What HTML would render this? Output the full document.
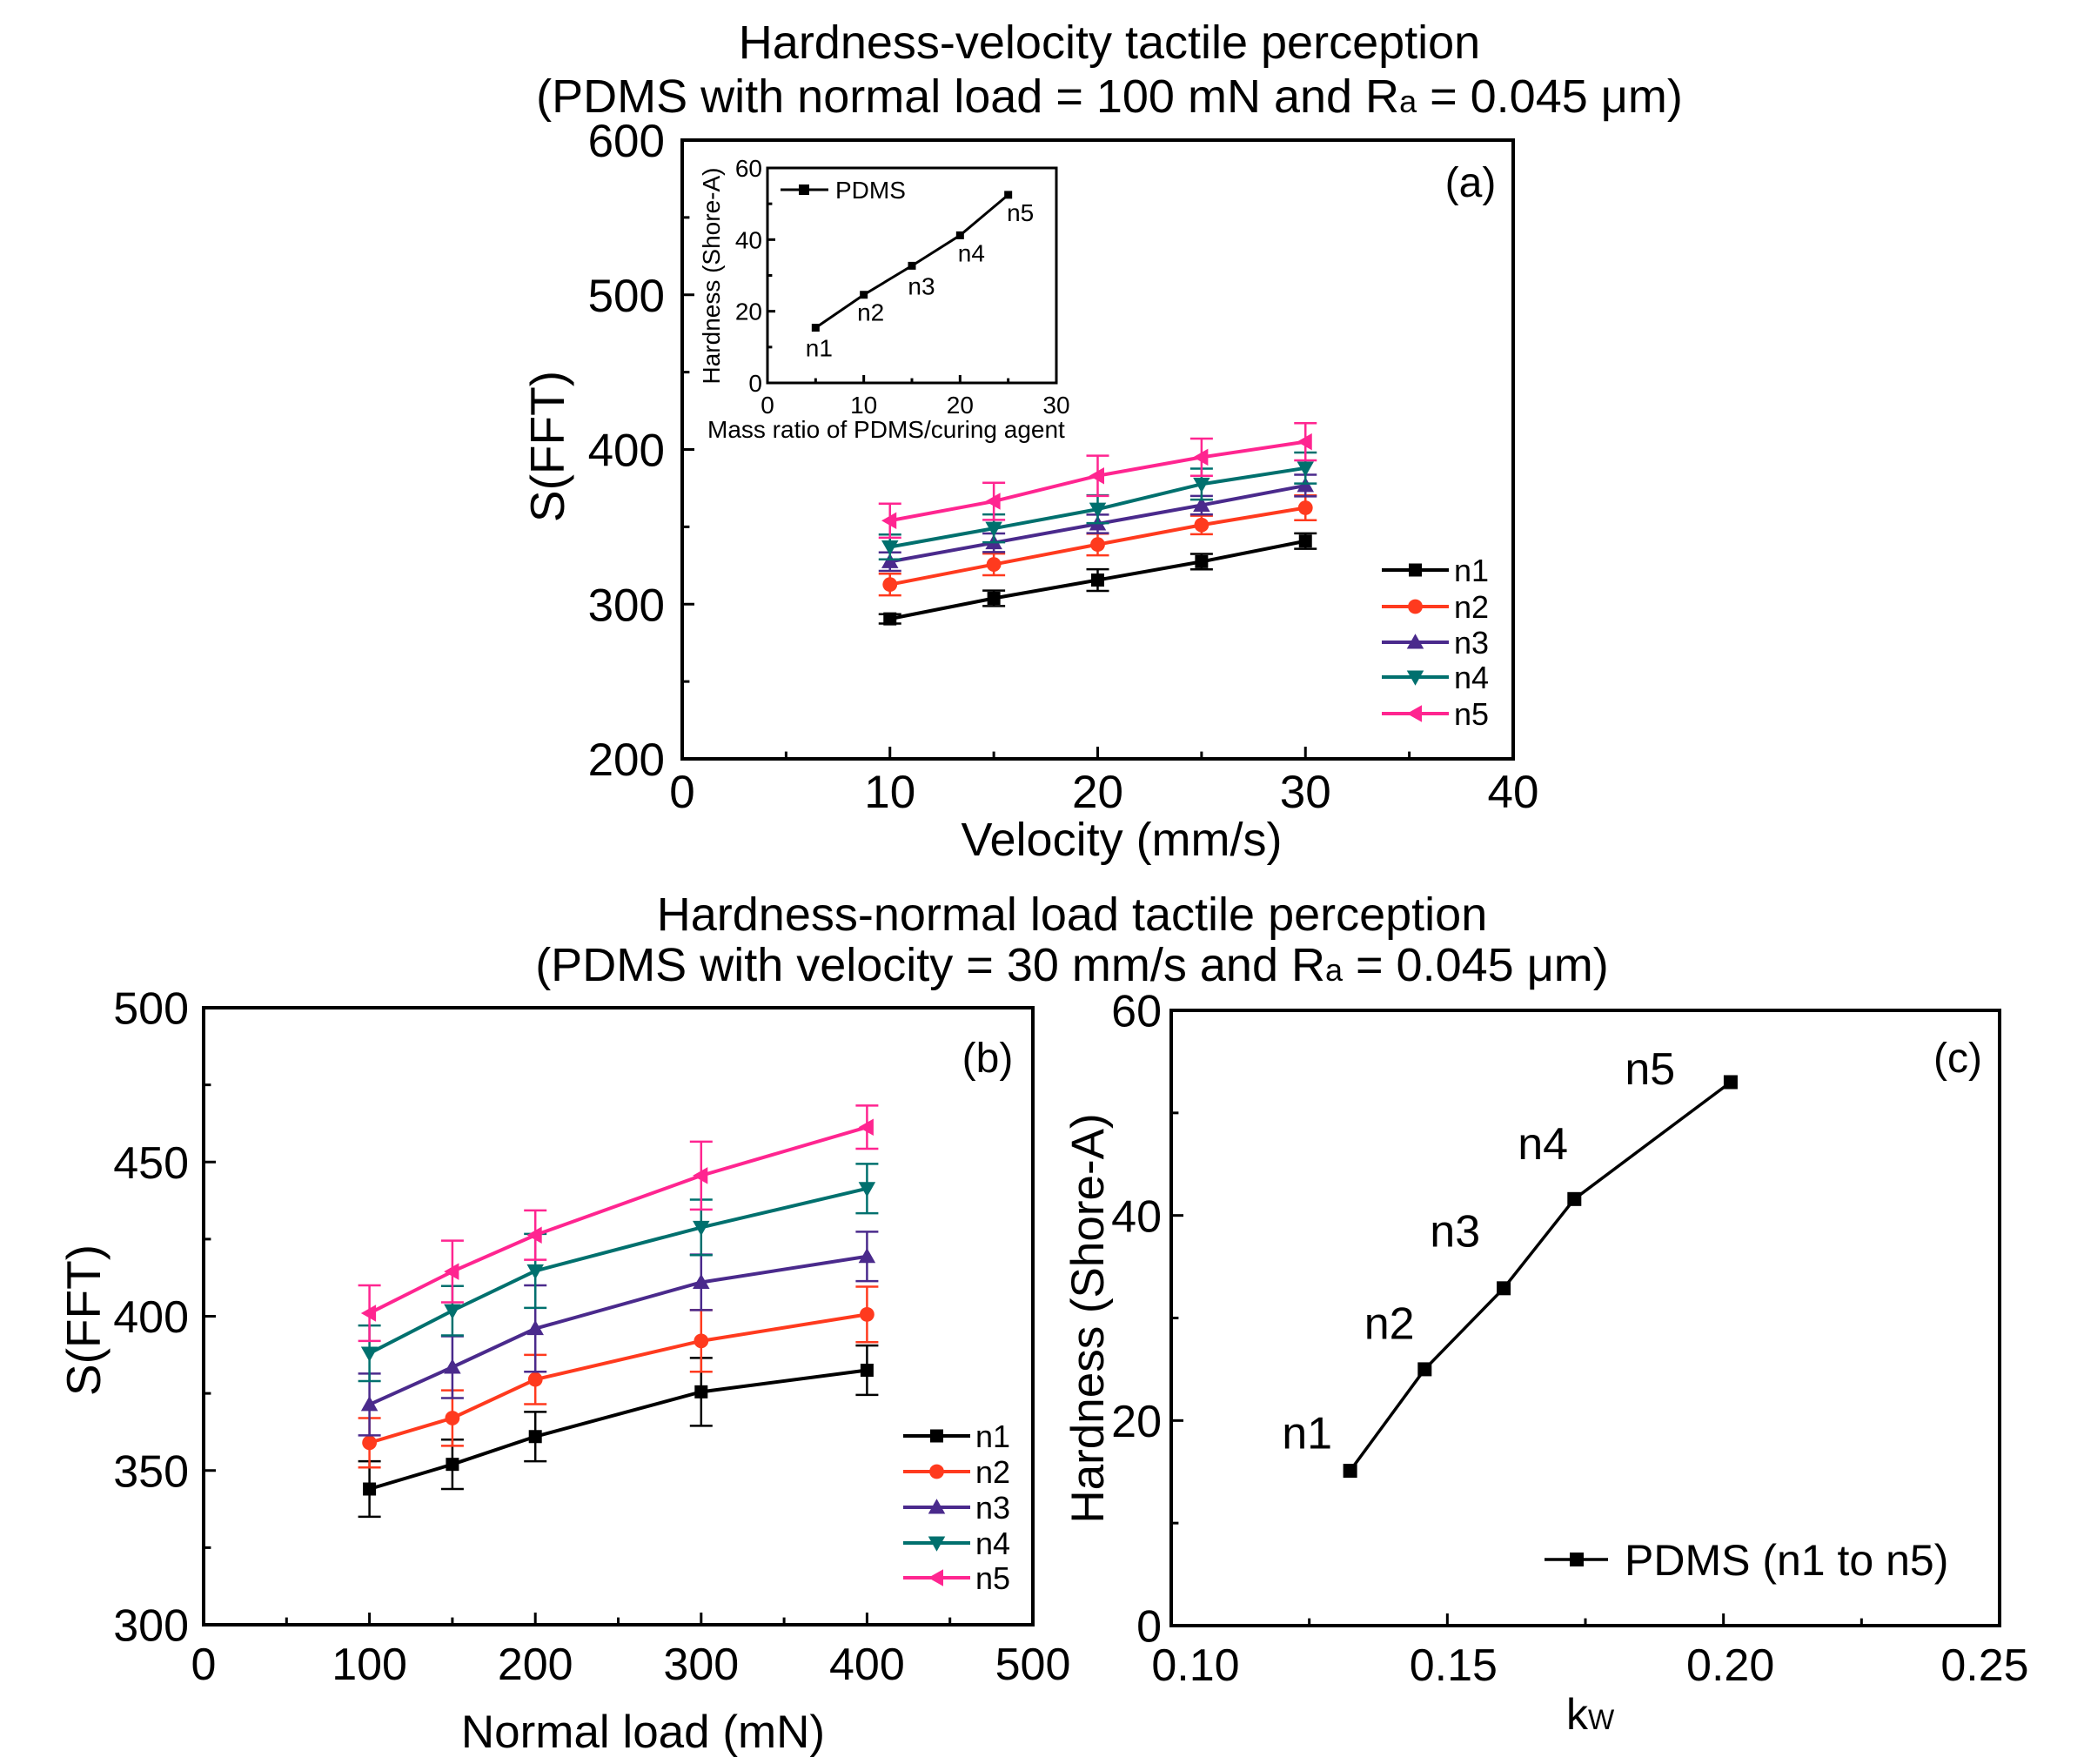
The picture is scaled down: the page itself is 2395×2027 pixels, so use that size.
<!DOCTYPE html>
<html><head><meta charset="utf-8"><style>
html,body{margin:0;padding:0;background:#fff}
svg{display:block;font-family:"Liberation Sans",sans-serif}
</style></head><body>
<svg id="fig" width="2395" height="2027" viewBox="0 0 2395 2027" xmlns="http://www.w3.org/2000/svg">
<text x="1275" y="67" font-size="54" text-anchor="middle">Hardness-velocity tactile perception</text>
<text x="1275" y="129" font-size="54" text-anchor="middle">(PDMS with normal load = 100 mN and R<tspan font-size="36">a</tspan> = 0.045 μm)</text>
<text x="1232" y="1069" font-size="54" text-anchor="middle">Hardness-normal load tactile perception</text>
<text x="1232" y="1127" font-size="54" text-anchor="middle">(PDMS with velocity = 30 mm/s and R<tspan font-size="36">a</tspan> = 0.045 μm)</text>
</svg>
<script>
const velX = [10, 15, 20, 25, 30];
const aN1 = [290.5, 303.8, 315.6, 327.5, 340.8];
const aN2 = [312.7, 325.7, 338.6, 351.2, 362.3];
const aN3 = [327.5, 339.7, 351.9, 364.0, 376.7];
const aN4 = [337.0, 349.0, 361.4, 377.6, 388.0];
const aN5 = [354.0, 366.5, 383.0, 395.0, 405.0];
const aE1 = [3, 5, 7, 5, 5];
const aE2 = [7, 7, 7, 6, 8];
const aE3 = [6, 6, 6, 6, 7];
const aE4 = [8, 9, 9, 10, 10];
const aE5 = [11, 12, 13, 12, 12];
const insetX = [5, 10, 15, 20, 25];
const insetY = [15.4, 24.6, 32.7, 41.2, 52.5];
const loadX = [100, 150, 200, 300, 400];
const bN1 = [344, 352, 361, 375.5, 382.5];
const bN2 = [359, 367, 379.5, 392, 400.6];
const bN3 = [371.4, 383.5, 396, 411, 419.4];
const bN4 = [388, 401.8, 414.7, 428.8, 441.4];
const bN5 = [401, 414.5, 426.3, 445.6, 461.3];
const bE1 = [9, 8, 8, 11, 8];
const bE2 = [8, 9, 8, 10, 9];
const bE3 = [10, 10, 14, 9, 8];
const bE4 = [9, 8, 12, 9, 8];
const bE5 = [9, 10, 8, 11, 7];
const kwX = [0.1324, 0.1459, 0.1602, 0.1730, 0.2013];
const kwY = [15.1, 25.0, 32.9, 41.6, 53.0];
const seriesNames = ['n1', 'n2', 'n3', 'n4', 'n5'];
const aTicksX = [0, 10, 20, 30, 40];
const aTicksY = [200, 300, 400, 500, 600];
const bTicksX = [0, 100, 200, 300, 400, 500];
const bTicksY = [300, 350, 400, 450, 500];
const cTicksX = [0.10, 0.15, 0.20, 0.25];
const cTicksY = [0, 20, 40, 60];
const cTickLabelsX = ['0.10', '0.15', '0.20', '0.25'];

const NS = 'http://www.w3.org/2000/svg';
const svg = document.getElementById('fig');
const colors = ['#000000', '#ff3a1e', '#4a2a8c', '#00706e', '#ff2590'];
const shapes = ['square', 'circle', 'up', 'down', 'left'];
function mk(tag, attrs, parent) {
  const e = document.createElementNS(NS, tag);
  for (const k in attrs) e.setAttribute(k, attrs[k]);
  (parent || svg).appendChild(e);
  return e;
}
function scale(d0, d1, p0, p1) { return v => p0 + (v - d0) / (d1 - d0) * (p1 - p0); }
function marker(g, shape, x, y, s, color) {
  let e;
  if (shape === 'square') e = mk('rect', {x: x - s/2, y: y - s/2, width: s, height: s, fill: color}, g);
  else if (shape === 'circle') e = mk('circle', {cx: x, cy: y, r: s * 0.56, fill: color}, g);
  else if (shape === 'up') e = mk('polygon', {points: `${x},${y - s*0.65} ${x - s*0.65},${y + s*0.5} ${x + s*0.65},${y + s*0.5}`, fill: color}, g);
  else if (shape === 'down') e = mk('polygon', {points: `${x},${y + s*0.65} ${x - s*0.65},${y - s*0.5} ${x + s*0.65},${y - s*0.5}`, fill: color}, g);
  else e = mk('polygon', {points: `${x - s*0.65},${y} ${x + s*0.5},${y - s*0.65} ${x + s*0.5},${y + s*0.65}`, fill: color}, g);
  return e;
}
function axes(g, L, R, T, B, sx, sy, tx, ty, minorX, minorY, fs, opts) {
  const box = mk('rect', {x: L, y: T, width: R - L, height: B - T, fill: 'none', stroke: '#000', 'stroke-width': opts.sw || 4}, g);
  
  
  const tl = opts.tl || 14;
  minorX.forEach(v => mk('line', {x1: sx(v), x2: sx(v), y1: B, y2: B - tl * 0.6, stroke: '#000', 'stroke-width': 3}, g));
  minorY.forEach(v => mk('line', {x1: L, x2: L + tl * 0.6, y1: sy(v), y2: sy(v), stroke: '#000', 'stroke-width': 3}, g));
  tx.forEach((v, i) => {
    mk('line', {x1: sx(v), x2: sx(v), y1: B, y2: B - tl, stroke: '#000', 'stroke-width': 3}, g);
    const t = mk('text', {x: sx(v) + (opts.xo ? opts.xo[i] : 0), y: B + (opts.xb || fs * 1.15), 'font-size': fs, 'text-anchor': 'middle'}, g);
    t.textContent = opts.xl ? opts.xl[i] : v;
    
    
  });
  ty.forEach(v => {
    mk('line', {x1: L, x2: L + tl, y1: sy(v), y2: sy(v), stroke: '#000', 'stroke-width': 3}, g);
    const t = mk('text', {x: L - (opts.yg || 12), y: sy(v) + fs * 0.36, 'font-size': fs, 'text-anchor': 'end'}, g);
    t.textContent = v;
    
    
  });
}
function range(a, b, s) { const r = []; for (let v = a; v <= b + 1e-9; v += s) r.push(+v.toFixed(4)); return r; }
function text(x, y, fs, str, name, anchor, rot) {
  const t = mk('text', {x: x, y: y, 'font-size': fs, 'text-anchor': anchor || 'middle'});
  if (rot) t.setAttribute('transform', `rotate(-90 ${x} ${y})`);
  t.textContent = str;
  
  
  return t;
}
function seriesPlot(g, xs, ys, es, sx, sy, color, shape, ms, name) {
  const sg = mk('g', {}, g);
  
  
  if (es) xs.forEach((x, i) => {
    const px = sx(x), y1 = sy(ys[i] - es[i]), y2 = sy(ys[i] + es[i]);
    mk('line', {x1: px, x2: px, y1: y1, y2: y2, stroke: color, 'stroke-width': 2.5}, sg);
    mk('line', {x1: px - 13, x2: px + 13, y1: y1, y2: y1, stroke: color, 'stroke-width': 2.5}, sg);
    mk('line', {x1: px - 13, x2: px + 13, y1: y2, y2: y2, stroke: color, 'stroke-width': 2.5}, sg);
  });
  mk('polyline', {points: xs.map((x, i) => sx(x) + ',' + sy(ys[i])).join(' '), fill: 'none', stroke: color, 'stroke-width': 4}, sg);
  xs.forEach((x, i) => {
    const m = marker(sg, shape, sx(x), sy(ys[i]), ms, color);
    
    
  });
}
function legend(g, x1, x2, rows, fs, labels) {
  labels.forEach((lab, i) => {
    const lg = mk('g', {}, g);
    
    
    mk('line', {x1: x1, x2: x2, y1: rows[i], y2: rows[i], stroke: colors[i], 'stroke-width': 4}, lg);
    marker(lg, shapes[i], (x1 + x2) / 2, rows[i], 15, colors[i]);
    const t = mk('text', {x: x2 + 6, y: rows[i] + fs * 0.36, 'font-size': fs}, lg);
    t.textContent = lab;
  });
}

// Panel (a)
{
  const g = mk('g', {});  
  const L = 784, R = 1739, T = 161, B = 872;
  const sx = scale(0, 40, L, R), sy = scale(200, 600, B, T);
  axes(g, L, R, T, B, sx, sy, aTicksX, aTicksY, range(5, 35, 10), range(250, 550, 100), 53, {yg: 20, xb: 56});
  const ys = [aN1, aN2, aN3, aN4, aN5], es = [aE1, aE2, aE3, aE4, aE5];
  ys.forEach((y, i) => seriesPlot(g, velX, y, es[i], sx, sy, colors[i], shapes[i], 15, 'series-' + seriesNames[i]));
  legend(g, 1588, 1665, [655, 697, 738, 778, 820], 36, seriesNames);
  text(1690, 226, 48, '(a)', 'panel-label-a');
  text(1289, 983, 54, 'Velocity (mm/s)', 'x-axis-title-a');
  text(648, 513, 55, 'S(FFT)', 'y-axis-title-a', 'middle', true);
  // inset
  const ig = mk('g', {}, g);  
  const iL = 882, iR = 1214, iT = 193, iB = 440;
  const isx = scale(0, 30, iL, iR), isy = scale(0, 60, iB, iT);
  axes(ig, iL, iR, iT, iB, isx, isy, [0, 10, 20, 30], [0, 20, 40, 60], range(5, 25, 10), range(10, 50, 20), 28, {sw: 3, tl: 9, yg: 6, xb: 35});
  const ip = mk('g', {}, ig);  
  mk('polyline', {points: insetX.map((x, i) => isx(x) + ',' + isy(insetY[i])).join(' '), fill: 'none', stroke: '#000', 'stroke-width': 3}, ip);
  const ilx = [4, 8, 11, 13, 14];
  const ily = [33, 30, 33, 30, 30];
  insetX.forEach((x, i) => {
    const m = mk('rect', {x: isx(x) - 4.5, y: isy(insetY[i]) - 4.5, width: 9, height: 9, fill: '#000'}, ip);
     
    text(isx(x) + ilx[i], isy(insetY[i]) + ily[i], 28, seriesNames[i], 'inset-point-label');
  });
  mk('line', {x1: 897, x2: 952, y1: 218, y2: 218, stroke: '#000', 'stroke-width': 3}, ig);
  mk('rect', {x: 918, y: 212, width: 12, height: 12, fill: '#000'}, ig);
  text(960, 228, 28, 'PDMS', 'inset-legend', 'start');
  text(813, 503, 28, 'Mass ratio of PDMS/curing agent', 'inset-x-title', 'start');
  text(827, 317, 28, 'Hardness (Shore-A)', 'inset-y-title', 'middle', true);
}

// Panel (b)
{
  const g = mk('g', {});  
  const L = 234, R = 1187, T = 1158, B = 1867;
  const sx = scale(0, 500, L, R), sy = scale(300, 500, B, T);
  axes(g, L, R, T, B, sx, sy, bTicksX, bTicksY, range(50, 450, 100), range(325, 475, 50), 52, {yg: 17, xb: 63});
  const ys = [bN1, bN2, bN3, bN4, bN5], es = [bE1, bE2, bE3, bE4, bE5];
  ys.forEach((y, i) => seriesPlot(g, loadX, y, es[i], sx, sy, colors[i], shapes[i], 15, 'series-' + seriesNames[i]));
  legend(g, 1038, 1115, [1650, 1691, 1732, 1773, 1813], 36, seriesNames);
  text(1135, 1232, 48, '(b)', 'panel-label-b');
  text(739, 2008, 53, 'Normal load (mN)', 'x-axis-title-b');
  text(115, 1517, 55, 'S(FFT)', 'y-axis-title-b', 'middle', true);
}

// Panel (c)
{
  const g = mk('g', {});  
  const L = 1346, R = 2298, T = 1161, B = 1868;
  const sx = scale(0.10, 0.25, L, R), sy = scale(0, 60, B, T);
  axes(g, L, R, T, B, sx, sy, cTicksX, cTicksY, [0.125, 0.175, 0.225], [10, 30, 50], 52, {xl: cTickLabelsX, yg: 11, xb: 63, xo: [28, 7, 8, -17]});
  const sg = mk('g', {}, g);  
  mk('polyline', {points: kwX.map((x, i) => sx(x) + ',' + sy(kwY[i])).join(' '), fill: 'none', stroke: '#000', 'stroke-width': 3.5}, sg);
  const lblX = [0.1246, 0.1395, 0.1514, 0.1673, 0.1867];
  const lblY = [18.8, 29.5, 38.5, 47.0, 54.3];
  kwX.forEach((x, i) => {
    const m = mk('rect', {x: sx(x) - 8, y: sy(kwY[i]) - 8, width: 16, height: 16, fill: '#000'}, sg);
     
    text(sx(lblX[i]), sy(lblY[i]) + 18, 52, seriesNames[i], 'point-label-' + seriesNames[i]);
  });
  mk('line', {x1: 1775, x2: 1848, y1: 1792, y2: 1792, stroke: '#000', 'stroke-width': 3.5}, g);
  mk('rect', {x: 1804, y: 1784, width: 16, height: 16, fill: '#000'}, g);
  text(1867, 1810, 50, 'PDMS (n1 to n5)', 'legend-pdms', 'start');
  text(2250, 1232, 48, '(c)', 'panel-label-c');
  const kt = text(1800, 1987, 50, 'k', 'x-axis-title-c', 'start');
  const ts = document.createElementNS(NS, 'tspan'); ts.setAttribute('font-size', '32'); ts.textContent = 'W'; kt.appendChild(ts);
  text(1268, 1515, 53, 'Hardness (Shore-A)', 'y-axis-title-c', 'middle', true);
}
</script>
</body></html>
